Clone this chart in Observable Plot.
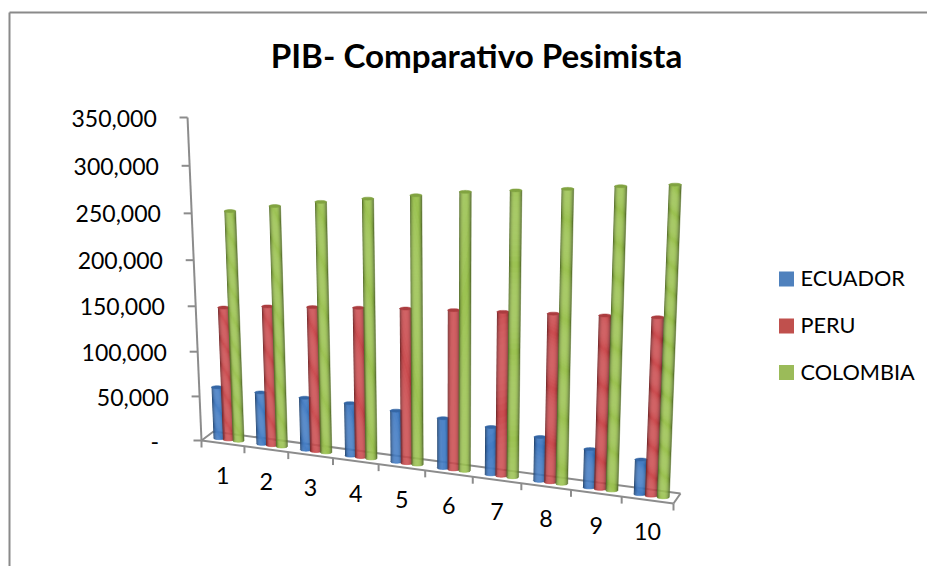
<!DOCTYPE html>
<html><head><meta charset="utf-8">
<script src="https://cdn.jsdelivr.net/npm/d3@7"></script>
<script src="https://cdn.jsdelivr.net/npm/@observablehq/plot@0.6"></script>
<style>html,body{margin:0;padding:0;background:#fff}svg{display:block}</style>
</head><body><div id="chart"></div>
<script>
const categories = ["1","2","3","4","5","6","7","8","9","10"];
const seriesNames = ["ECUADOR","PERU","COLOMBIA"];
const ecuador  = [57500,57500,57500,57500,55400,53400,50300,46100,39900,35700];
const peru     = [146600,152600,156600,160700,164600,167700,170700,173700,176700,179700];
const colombia = [250800,259600,267400,274200,281000,287800,292600,297400,303200,308000];
const seriesValues = [ecuador, peru, colombia];
const legendColors = ["#4f81bd","#c0504d","#9bbb59"];
const barColors = ["#3d78c2","#c9474a","#98c04c"];
const seriesOffset = [0.29,0.51,0.74];
const yTicks = [0,50000,100000,150000,200000,250000,300000,350000];

// Projection of the 3-D scene: t along categories, d depth, v value
const R = 1.11, Q = 1.055, VX = 447, VY = 6130, VMAX = 350000, H = 323, N = categories.length;
const lerp = (a,b,u) => a + (b-a)*u;
const persp = t => t/(t+(1-t)*R);
function floor(t,d){
  const s = persp(t);
  return {x: lerp(lerp(201,673,s), lerp(213,680,s), d), y: lerp(lerp(440,503,s), lerp(431,493,s), d)};
}
const depthScale = t => R/(R-(R-1)*t);
const rise = v => { const u = v/VMAX; return u/(u+(1-u)*Q); };
function raise(p,t,v){
  const h = H*rise(v)*depthScale(t);
  return {x: p.x + h*(p.x-VX)/(VY-p.y), y: p.y - h};
}
const mix = (c,o,u) => d3.interpolateRgb(c,o)(u);
function shade(c,a){
  const e = Math.abs(a);
  const lit = a + 0.15;
  let col = mix(c,"#000",0.5*Math.pow(e,3));
  col = mix(col,"#fff",0.04*Math.max(0,1-lit*lit*2.2));
  return col;
}

const polys = [];
let pid = 0;
function addPoly(points,c){ pid++; for(const p of points) polys.push({x:p.x,y:p.y,id:pid,c}); }
const STRIPS = 12, RY = 1.5;
categories.forEach((cat,i)=>{
  seriesNames.forEach((nm,s)=>{
    const t = (i+seriesOffset[s])/N;
    const b = floor(t,0.45);
    const top = raise(b,t,seriesValues[s][i]);
    const hw = 5.6*depthScale(t);
    for(let k=0;k<STRIPS;k++){
      const a0 = -1+2*k/STRIPS, a1 = -1+2*(k+1)/STRIPS, am=(a0+a1)/2;
      const lo = a => ({x:b.x+a*hw, y:b.y+RY*Math.sqrt(1-a*a)});
      const hi = a => ({x:top.x+a*hw, y:top.y});
      addPoly([lo(a0),lo(am),lo(a1),hi(a1),hi(a0)], shade(barColors[s],am));
    }
    const cap = d3.range(0,24).map(j=>{const th=j/24*2*Math.PI;return {x:top.x+hw*Math.cos(th),y:top.y+RY*Math.sin(th)};});
    addPoly(cap, mix(barColors[s],"#000",0.15));
  });
});

const AX = "#8c8c8c";
const axisLinks = [];
const addLink = (a,b,w=2)=>axisLinks.push({x1:a.x,y1:a.y,x2:b.x,y2:b.y,w});
addLink(floor(0,0),floor(1,0)); addLink(floor(0,1),floor(1,1));
addLink(floor(0,0),floor(0,1)); addLink(floor(1,0),floor(1,1));
addLink(floor(0,0),raise(floor(0,0),0,VMAX));
d3.range(0,N+1).forEach(i=>{const p=floor(i/N,0);addLink(p,{x:p.x,y:p.y+7});});
const yTickRows = yTicks.map(v=>{
  const p = raise(floor(0,0),0,v);
  addLink(p,{x:p.x-8,y:p.y});
  return {x:p.x-8-(v===0?34.5:22.8),y:p.y+1.7,label:v===0?"-":d3.format(",")(v)};
});
const catLabels = categories.map((c,i)=>{const p=floor((i+0.5)/N,0);return {x:p.x,y:p.y+33,label:c};});
const legendRows = seriesNames.map((n,i)=>({n,c:legendColors[i],y:[279,326,372.5][i]}));
const F = "Lato";
const frame = [{x1:9,y1:12,x2:927,y2:12},{x1:9,y1:12,x2:9,y2:566}];

const chart = Plot.plot({
  width:927,height:566,margin:0,
  x:{domain:[0,927],range:[0,927],axis:null},
  y:{domain:[0,566],range:[0,566],axis:null},
  marks:[
    Plot.link(frame,{x1:"x1",y1:"y1",x2:"x2",y2:"y2",stroke:"#8a8a8a",strokeWidth:2}),
    Plot.link(axisLinks,{x1:"x1",y1:"y1",x2:"x2",y2:"y2",stroke:AX,strokeWidth:"w"}),
    Plot.line(polys,{x:"x",y:"y",z:"id",fill:{value:"c",scale:null},stroke:{value:"c",scale:null},strokeWidth:0.5,curve:"linear"}),
    Plot.text(yTickRows,{x:"x",y:"y",text:"label",textAnchor:"end",fontFamily:F,fontSize:23,fill:"#000"}),
    Plot.text(catLabels,{x:"x",y:"y",text:"label",fontFamily:F,fontSize:23.3,fill:"#000"}),
    Plot.rect(legendRows,{x1:779,x2:794,y1:d=>d.y-7.5,y2:d=>d.y+7.5,fill:{value:"c",scale:null}}),
    Plot.text(legendRows,{x:800,y:"y",text:"n",textAnchor:"start",fontFamily:F,fontSize:21.7,fill:"#000"}),
    Plot.text(["PIB- Comparativo Pesimista"],{x:476,y:57,text:d=>d,fontFamily:F,fontSize:33.2,fontWeight:"bold",fill:"#000"})
  ]
});
document.getElementById("chart").appendChild(chart);
</script></body></html>
